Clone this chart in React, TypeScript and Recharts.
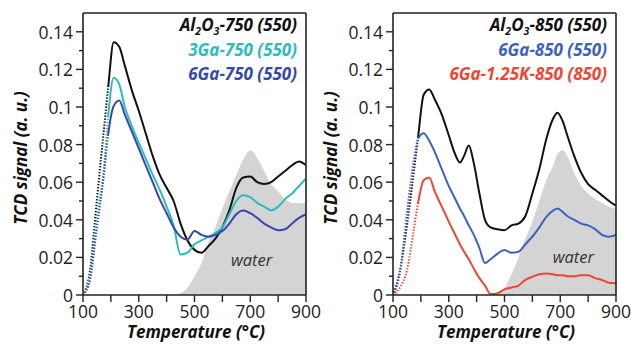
import React from 'react';
import {
  ComposedChart,
  Line,
  Area,
  XAxis,
  YAxis,
  ReferenceLine,
  ReferenceDot,
  Legend,
  Customized,
} from 'recharts';

// ---------- data ----------
const leftTemps = [100, 125, 150, 175, 190, 210, 230, 250, 275, 300, 325, 350, 375, 400, 425, 450, 475, 500, 525, 550, 575, 600, 625, 650, 675, 700, 725, 750, 775, 800, 825, 850, 875, 900];
const al750 = [0, 0.013, 0.051, 0.088, 0.11, 0.1345, 0.132, 0.122, 0.109, 0.098, 0.086, 0.074, 0.064, 0.057, 0.05, 0.038, 0.029, 0.024, 0.0225, 0.026, 0.03, 0.036, 0.045, 0.057, 0.0625, 0.063, 0.06, 0.059, 0.06, 0.063, 0.066, 0.069, 0.071, 0.069];
const ga3_750 = [0, 0.01, 0.042, 0.068, 0.095, 0.1155, 0.112, 0.1, 0.09, 0.081, 0.0725, 0.064, 0.056, 0.047, 0.037, 0.0215, 0.0225, 0.027, 0.029, 0.031, 0.033, 0.036, 0.043, 0.05, 0.053, 0.052, 0.049, 0.047, 0.045, 0.047, 0.051, 0.054, 0.058, 0.062];
const ga6_750 = [0, 0.008, 0.036, 0.064, 0.085, 0.1005, 0.1035, 0.096, 0.087, 0.078, 0.069, 0.06, 0.051, 0.0435, 0.036, 0.031, 0.0295, 0.034, 0.032, 0.031, 0.032, 0.034, 0.038, 0.043, 0.045, 0.0435, 0.041, 0.038, 0.036, 0.0345, 0.035, 0.038, 0.041, 0.043];
const waterLeft = [0, 0, 0, 0, 0, 0, 0, 0, 0, 0, 0, 0, 0, 0, 0, 0.001, 0.004, 0.01, 0.017, 0.028, 0.036, 0.046, 0.055, 0.064, 0.072, 0.077, 0.073, 0.066, 0.059, 0.055, 0.051, 0.049, 0.049, 0.049];

const rightTemps = [100, 125, 150, 175, 190, 210, 230, 250, 275, 300, 320, 340, 355, 372, 390, 410, 430, 450, 475, 500, 525, 550, 575, 600, 625, 650, 675, 690, 710, 725, 750, 775, 800, 825, 850, 875, 900];
const al850 = [0, 0.013, 0.037, 0.066, 0.084, 0.1065, 0.1093, 0.104, 0.096, 0.085, 0.076, 0.0705, 0.074, 0.0795, 0.07, 0.054, 0.04, 0.036, 0.035, 0.0345, 0.037, 0.038, 0.042, 0.054, 0.067, 0.083, 0.094, 0.097, 0.092, 0.085, 0.074, 0.065, 0.059, 0.056, 0.053, 0.05, 0.0475];
const ga6_850 = [0, 0.012, 0.044, 0.072, 0.083, 0.086, 0.082, 0.076, 0.067, 0.058, 0.052, 0.046, 0.042, 0.037, 0.032, 0.025, 0.017, 0.019, 0.022, 0.024, 0.0225, 0.023, 0.027, 0.031, 0.036, 0.0415, 0.045, 0.046, 0.044, 0.042, 0.04, 0.038, 0.037, 0.035, 0.032, 0.031, 0.032];
const k125_850 = [0, 0.004, 0.013, 0.035, 0.049, 0.061, 0.0625, 0.055, 0.047, 0.039, 0.033, 0.027, 0.023, 0.019, 0.014, 0.009, 0.005, 0.0005, 0.001, 0.003, 0.004, 0.005, 0.008, 0.0097, 0.011, 0.0115, 0.011, 0.0105, 0.0105, 0.01, 0.01, 0.0105, 0.0105, 0.009, 0.008, 0.0065, 0.0062];
const waterRight = [0, 0, 0, 0, 0, 0, 0, 0, 0, 0, 0, 0, 0, 0, 0, 0, 0, 0.0005, 0.001, 0.004, 0.011, 0.02, 0.03, 0.039, 0.05, 0.061, 0.069, 0.075, 0.077, 0.074, 0.065, 0.058, 0.054, 0.051, 0.049, 0.047, 0.046];

const leftLabels = ['Al2O3-750 (550)', '3Ga-750 (550)', '6Ga-750 (550)'];
const rightLabels = ['Al2O3-850 (550)', '6Ga-850 (550)', '6Ga-1.25K-850 (850)'];

const xTicks = [100, 200, 300, 400, 500, 600, 700, 800, 900];
const xTickLabels = ['100', '', '300', '', '500', '', '700', '', '900'];
const yTicks = [0, 0.01, 0.02, 0.03, 0.04, 0.05, 0.06, 0.07, 0.08, 0.09, 0.1, 0.11, 0.12, 0.13, 0.14];
const yTickLabels = ['0', '', '0.02', '', '0.04', '', '0.06', '', '0.08', '', '0.1', '', '0.12', '', '0.14'];

const waterLabel = 'water';
const xTitle = 'Temperature (°C)';
const yTitle = 'TCD signal (a. u.)';

// ---------- styles ----------
const FONT = '"Open Sans", "DejaVu Sans", sans-serif';
const AXIS = '#222';
const GRAY = '#d4d4d4';
const RISE_END = 4; // the steep rise (up to this sample) is drawn dotted
const PX_PER_T = 223 / 800;
const PX_PER_V = 282 / 0.15;

type Series = { key: string; values: number[]; color: string };

// dash pattern: dotted along the steep rise, solid afterwards
function riseDash(temps: number[], values: number[]) {
  let len = 0;
  for (let i = 1; i <= RISE_END; i++) {
    const dx = (temps[i] - temps[i - 1]) * PX_PER_T;
    const dy = (values[i] - values[i - 1]) * PX_PER_V;
    len += Math.hypot(dx, dy);
  }
  const n = Math.max(1, Math.round(len / 3));
  return Array(n).fill('1.4 1.6').join(' ') + ' 4000 0';
}

function buildRows(temps: number[], series: Series[], water: number[]) {
  return temps.map((T, i) => {
    const row: Record<string, number> = { T, water: water[i] };
    series.forEach((s) => {
      row[s.key] = s.values[i];
    });
    return row;
  });
}

const YTick = (props: any) => {
  const { x, y, payload } = props;
  const idx = yTicks.findIndex((t) => Math.abs(t - payload.value) < 1e-9);
  const label = yTickLabels[idx] || '';
  const major = idx % 2 === 0;
  return (
    <g>
      <line x1={x - (major ? 7 : 4)} x2={x} y1={y} y2={y} stroke={AXIS} strokeWidth={1.4} />
      {label && (
        <text x={x - 10} y={y} textAnchor="end" dominantBaseline="central" fill="#222" fontSize={17.5} fontFamily={FONT}>
          {label}
        </text>
      )}
    </g>
  );
};

const XTick = (props: any) => {
  const { x, y, payload } = props;
  const idx = xTicks.indexOf(payload.value);
  const label = xTickLabels[idx] || '';
  return (
    <g>
      <line x1={x} x2={x} y1={y} y2={y + 7} stroke={AXIS} strokeWidth={1.4} />
      {label && (
        <text x={x} y={y + 23} textAnchor="middle" fill="#222" fontSize={17.5} fontFamily={FONT}>
          {label}
        </text>
      )}
    </g>
  );
};

function renderLabel(label: string) {
  if (label.startsWith('Al2O3')) {
    const rest = label.slice(5);
    const subStyle: React.CSSProperties = { fontSize: '0.62em', verticalAlign: '-0.35em', lineHeight: 0 };
    return (
      <>
        Al<span style={subStyle}>2</span>O<span style={subStyle}>3</span>
        {rest}
      </>
    );
  }
  return label;
}

type PanelProps = {
  temps: number[];
  series: Series[];
  labels: string[];
  water: number[];
  waterAt: [number, number];
  left: number;
};

function Panel({ temps, series, labels, water, waterAt, left }: PanelProps) {
  const rows = buildRows(temps, series, water);
  return (
    <div style={{ position: 'absolute', left, top: 0 }}>
      <ComposedChart width={325} height={346} data={rows} margin={{ top: 13, right: 19, bottom: 0, left: 23 }}>
        <XAxis
          dataKey="T"
          type="number"
          domain={[100, 900]}
          ticks={xTicks}
          interval={0}
          tickSize={0}
          tickMargin={0}
          tick={<XTick />}
          height={51}
          axisLine={{ stroke: AXIS, strokeWidth: 1.6 }}
          tickLine={false}
          allowDataOverflow
        />
        <YAxis
          type="number"
          domain={[0, 0.15]}
          ticks={yTicks}
          interval={0}
          tickSize={0}
          tickMargin={0}
          tick={<YTick />}
          width={60}
          axisLine={{ stroke: AXIS, strokeWidth: 1.6 }}
          tickLine={false}
          allowDataOverflow
        />
        <Area
          dataKey="water"
          type="monotone"
          stroke="none"
          fill={GRAY}
          fillOpacity={1}
          isAnimationActive={false}
          legendType="none"
        />
        {series.map((s) => (
          <Line
            key={s.key}
            dataKey={s.key}
            type="monotone"
            stroke={s.color}
            strokeWidth={2}
            strokeDasharray={riseDash(temps, s.values)}
            dot={false}
            isAnimationActive={false}
          />
        ))}
        <ReferenceLine y={0.15} stroke={AXIS} strokeWidth={1.6} />
        <ReferenceLine x={900} stroke={AXIS} strokeWidth={1.6} />
        <ReferenceDot
          x={waterAt[0]}
          y={waterAt[1]}
          r={1}
          fill="none"
          stroke="none"
          label={{ value: waterLabel, position: 'center', fill: '#333', fontSize: 16.5, fontStyle: 'italic', fontFamily: FONT }}
        />
        <Legend
          layout="horizontal"
          verticalAlign="middle"
          align="center"
          wrapperStyle={{ top: 13, left: 0, width: 297, height: 'auto' }}
          content={() => (
            <div style={{ textAlign: 'right', fontFamily: FONT, fontWeight: 700, fontStyle: 'italic', fontSize: 17, lineHeight: '24.5px' }}>
              {labels.map((l, i) => (
                <div key={l} style={{ color: series[i].color, whiteSpace: 'nowrap' }}>
                  {renderLabel(l)}
                </div>
              ))}
            </div>
          )}
        />
        <Customized
          component={() => (
            <g fontFamily={FONT} fontWeight={700} fontStyle="italic" fontSize={17} fill="#111">
              <text x={20} y={158} transform="rotate(-90 20 158)" textAnchor="middle" dominantBaseline="central">
                {yTitle}
              </text>
              <text x={196} y={338} textAnchor="middle">
                {xTitle}
              </text>
            </g>
          )}
        />
      </ComposedChart>
    </div>
  );
}

export default function App() {
  const leftSeries: Series[] = [
    { key: 'al750', values: al750, color: '#111111' },
    { key: 'ga3', values: ga3_750, color: '#2bbcc0' },
    { key: 'ga6', values: ga6_750, color: '#3549ad' },
  ];
  const rightSeries: Series[] = [
    { key: 'al850', values: al850, color: '#111111' },
    { key: 'ga6', values: ga6_850, color: '#3b62c0' },
    { key: 'k125', values: k125_850, color: '#ef4634' },
  ];
  return (
    <div style={{ position: 'fixed', left: 0, top: 0, width: 631, height: 346, background: '#fff', overflow: 'hidden' }}>
      <Panel temps={leftTemps} series={leftSeries} labels={leftLabels} water={waterLeft} waterAt={[705, 0.0185]} left={0} />
      <Panel temps={rightTemps} series={rightSeries} labels={rightLabels} water={waterRight} waterAt={[747, 0.0203]} left={310} />
    </div>
  );
}
